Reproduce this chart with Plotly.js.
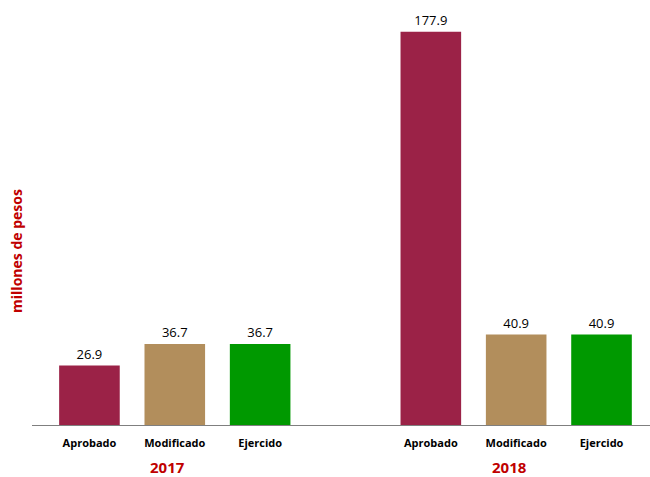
<!DOCTYPE html>
<html><head><meta charset="utf-8">
<script src="https://cdn.plot.ly/plotly-3.0.1.min.js"></script>
<style>html,body{margin:0;padding:0;background:#fff}#chart{width:650px;height:477px}</style>
</head><body><div id="chart"></div>
<script>
const categories = ['Aprobado', 'Modificado', 'Ejercido'];
const years = ['2017', '2018'];
const values2017 = [26.9, 36.7, 36.7];
const values2018 = [177.9, 40.9, 40.9];
const colors = ['#9B2247', '#B28E5C', '#009900'];
const yTitle = 'millones de pesos';

const allValues = [values2017, values2018];
const xPos = [], yVals = [], barColors = [], tickText = [], labels = [];
allValues.forEach((vals, g) => {
  vals.forEach((v, i) => {
    xPos.push(g * 4 + i);
    yVals.push(v);
    barColors.push(colors[i]);
    tickText.push('<b>' + categories[i] + '</b>');
    labels.push(v.toFixed(1));
  });
});

const trace = {
  type: 'bar', x: xPos, y: yVals, width: 0.71,
  marker: {color: barColors, line: {width: 0}},
  text: labels, textposition: 'outside', cliponaxis: false,
  textfont: {family: 'Open Sans, sans-serif', size: 13, color: '#000'},
  hoverinfo: 'skip'
};

const annotations = years.map((yr, g) => ({
  text: '<b>' + yr + '</b>', xref: 'x', yref: 'paper', x: g * 4 + 0.92, y: -0.098,
  xanchor: 'center', yanchor: 'middle', showarrow: false,
  font: {family: 'Open Sans, sans-serif', size: 15, color: '#C00000'}
}));
annotations.push({
  text: '<b>' + yTitle + '</b>', xref: 'paper', yref: 'paper', x: -0.024, y: 0.41,
  xanchor: 'center', yanchor: 'middle', showarrow: false, textangle: -90,
  font: {family: 'Open Sans, sans-serif', size: 14, color: '#C00000'}
});

const layout = {
  width: 650, height: 477,
  margin: {l: 32, r: 0, t: 0, b: 52},
  paper_bgcolor: '#fff', plot_bgcolor: '#fff',
  showlegend: false,
  xaxis: {
    range: [-0.673, 6.568], tickvals: xPos, ticktext: tickText,
    showgrid: false, zeroline: false, showline: true, linecolor: '#7f7f7f', linewidth: 1,
    ticks: '', ticklen: 0, ticklabelstandoff: 8,
    tickfont: {family: 'Open Sans, sans-serif', size: 11, color: '#000'}
  },
  yaxis: {range: [0, 192.3], visible: false, showgrid: false, zeroline: false},
  annotations: annotations
};

Plotly.newPlot('chart', [trace], layout, {displayModeBar: false, staticPlot: true});
</script></body></html>
